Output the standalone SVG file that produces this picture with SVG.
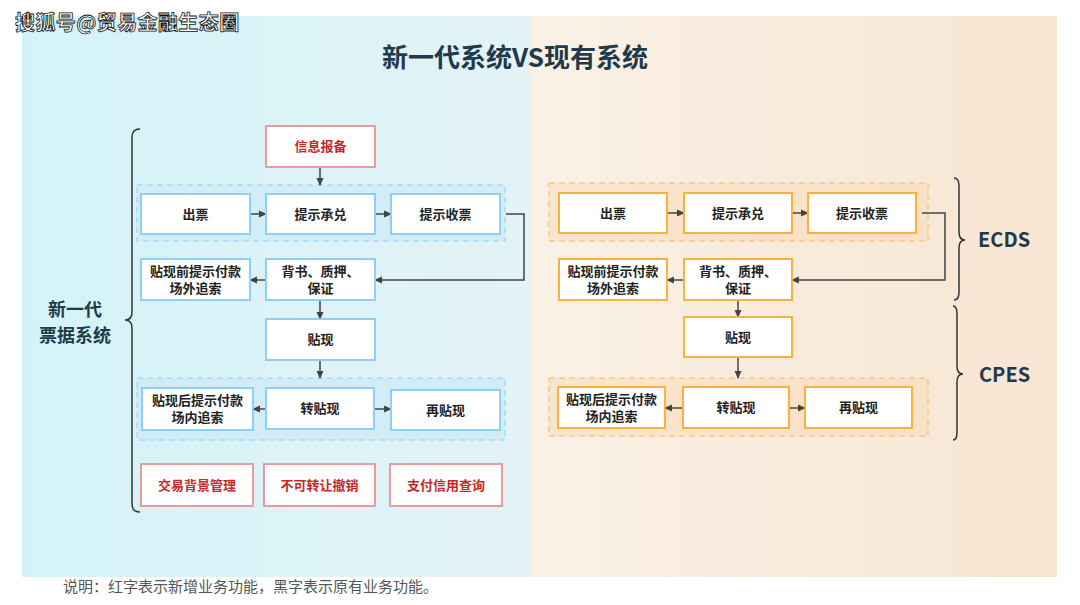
<svg xmlns="http://www.w3.org/2000/svg" width="1080" height="605" viewBox="0 0 1080 605">
<defs>
<linearGradient id="gL" x1="0" y1="0" x2="1" y2="0"><stop offset="0" stop-color="#d4f3f8"/><stop offset="1" stop-color="#e3f3f7"/></linearGradient>
<linearGradient id="gR" x1="0" y1="0" x2="1" y2="0"><stop offset="0" stop-color="#faf1e6"/><stop offset="1" stop-color="#f7e5d2"/></linearGradient>
<marker id="ar" markerWidth="8" markerHeight="8" refX="7" refY="4" orient="auto" markerUnits="userSpaceOnUse"><path d="M0,0.5 L8,4 L0,7.5 z" fill="#444"/></marker>
<style>
.b{fill:#fff;stroke:#90cdf7;stroke-width:2}
.o{fill:#fff;stroke:#fbb040;stroke-width:2}
.r{fill:#fff;stroke:#ef9a9a;stroke-width:2}
.gb{fill:#cdeaf6;fill-opacity:0.7;stroke:#a9dcf5;stroke-width:1.5;stroke-dasharray:6 4}
.go{fill:#f8deba;fill-opacity:0.6;stroke:#f6c88c;stroke-width:1.5;stroke-dasharray:6 4}
text{font-family:"Noto Sans CJK SC","Noto Sans",sans-serif}
.t{font-size:13px;font-weight:bold;fill:#222;text-anchor:middle}
.tr{font-size:13px;font-weight:bold;fill:#c62828;text-anchor:middle}
.c{fill:none;stroke:#444;stroke-width:1.5}
.br{fill:none;stroke:#333;stroke-width:1.5}
.lab{font-size:20px;font-weight:bold;fill:#1f3a4a}
.side{font-size:18px;font-weight:bold;fill:#1f3a4a;text-anchor:middle}
</style>
</defs>
<rect x="0" y="0" width="1080" height="605" fill="#fff"/>
<rect x="22" y="16" width="508" height="561" fill="url(#gL)"/>
<rect x="530" y="16" width="527" height="561" fill="url(#gR)"/>
<text x="15" y="30" font-size="20" font-weight="bold" fill="#fff" stroke="#111" stroke-width="0.8" letter-spacing="0.4">搜狐号@贸易金融生态圈</text>
<text x="515" y="67" font-size="26" font-weight="bold" fill="#1f3a4a" text-anchor="middle">新一代系统VS现有系统</text>

<g id="groups">
<rect class="gb" x="137" y="185" width="368" height="56"/>
<rect class="gb" x="137" y="378" width="368" height="62"/>
<rect class="go" x="549" y="183" width="379" height="58"/>
<rect class="go" x="549" y="378" width="379" height="58"/>
</g>

<g id="connectors">
<line class="c" x1="320" y1="167" x2="320" y2="185" marker-end="url(#ar)"/>
<line class="c" x1="250" y1="214" x2="266" y2="214" marker-end="url(#ar)"/>
<line class="c" x1="375" y1="214" x2="391" y2="214" marker-end="url(#ar)"/>
<polyline class="c" points="506,214 524,214 524,280 375,280" marker-end="url(#ar)"/>
<line class="c" x1="266" y1="280" x2="250" y2="280" marker-end="url(#ar)"/>
<line class="c" x1="320" y1="300" x2="320" y2="319" marker-end="url(#ar)"/>
<line class="c" x1="320" y1="360" x2="320" y2="378" marker-end="url(#ar)"/>
<line class="c" x1="266" y1="409" x2="253" y2="409" marker-end="url(#ar)"/>
<line class="c" x1="374" y1="409" x2="391" y2="409" marker-end="url(#ar)"/>

<line class="c" x1="667" y1="213" x2="684" y2="213" marker-end="url(#ar)"/>
<line class="c" x1="792" y1="213" x2="808" y2="213" marker-end="url(#ar)"/>
<polyline class="c" points="922,213 945,213 945,280 792,280" marker-end="url(#ar)"/>
<line class="c" x1="684" y1="280" x2="667" y2="280" marker-end="url(#ar)"/>
<line class="c" x1="738" y1="300" x2="738" y2="317" marker-end="url(#ar)"/>
<line class="c" x1="738" y1="357" x2="738" y2="378" marker-end="url(#ar)"/>
<line class="c" x1="683" y1="408" x2="665" y2="408" marker-end="url(#ar)"/>
<line class="c" x1="789" y1="408" x2="805" y2="408" marker-end="url(#ar)"/>
</g>

<g id="L-info"><rect class="r" x="266" y="126" width="109" height="41"/><text class="tr" x="320.5" y="151">信息报备</text></g>
<g id="L-chupiao"><rect class="b" x="141" y="194" width="109" height="40"/><text class="t" x="195.5" y="219">出票</text></g>
<g id="L-chengdui"><rect class="b" x="266" y="194" width="109" height="40"/><text class="t" x="320.5" y="219">提示承兑</text></g>
<g id="L-shoupiao"><rect class="b" x="391" y="194" width="109" height="40"/><text class="t" x="445.5" y="219">提示收票</text></g>
<g id="L-qianfukuan"><rect class="b" x="141" y="259" width="109" height="41"/><text class="t" x="195.5" y="276">贴现前提示付款</text><text class="t" x="195.5" y="293">场外追索</text></g>
<g id="L-beishu"><rect class="b" x="266" y="259" width="109" height="41"/><text class="t" x="320.5" y="276">背书、质押、</text><text class="t" x="320.5" y="293">保证</text></g>
<g id="L-tiexian"><rect class="b" x="266" y="319" width="109" height="41"/><text class="t" x="320.5" y="344">贴现</text></g>
<g id="L-houfukuan"><rect class="b" x="142" y="388" width="111" height="42"/><text class="t" x="197.5" y="405">贴现后提示付款</text><text class="t" x="197.5" y="422">场内追索</text></g>
<g id="L-zhuantiexian"><rect class="b" x="266" y="388" width="108" height="41"/><text class="t" x="320" y="413">转贴现</text></g>
<g id="L-zaitiexian"><rect class="b" x="391" y="390" width="109" height="40"/><text class="t" x="445.5" y="415">再贴现</text></g>
<g id="L-jiaoyi"><rect class="r" x="141" y="464" width="112" height="42"/><text class="tr" x="197" y="490">交易背景管理</text></g>
<g id="L-chexiao"><rect class="r" x="264" y="464" width="111" height="42"/><text class="tr" x="319.5" y="490">不可转让撤销</text></g>
<g id="L-chaxun"><rect class="r" x="390" y="464" width="112" height="42"/><text class="tr" x="446" y="490">支付信用查询</text></g>

<g id="R-chupiao"><rect class="o" x="559" y="193" width="108" height="40"/><text class="t" x="613" y="218">出票</text></g>
<g id="R-chengdui"><rect class="o" x="684" y="193" width="108" height="40"/><text class="t" x="738" y="218">提示承兑</text></g>
<g id="R-shoupiao"><rect class="o" x="808" y="193" width="108" height="40"/><text class="t" x="862" y="218">提示收票</text></g>
<g id="R-qianfukuan"><rect class="o" x="559" y="259" width="108" height="41"/><text class="t" x="613" y="276">贴现前提示付款</text><text class="t" x="613" y="293">场外追索</text></g>
<g id="R-beishu"><rect class="o" x="684" y="259" width="108" height="41"/><text class="t" x="738" y="276">背书、质押、</text><text class="t" x="738" y="293">保证</text></g>
<g id="R-tiexian"><rect class="o" x="684" y="317" width="108" height="40"/><text class="t" x="738" y="342">贴现</text></g>
<g id="R-houfukuan"><rect class="o" x="558" y="387" width="107" height="41"/><text class="t" x="611.5" y="404">贴现后提示付款</text><text class="t" x="611.5" y="421">场内追索</text></g>
<g id="R-zhuantiexian"><rect class="o" x="683" y="387" width="106" height="41"/><text class="t" x="736" y="412">转贴现</text></g>
<g id="R-zaitiexian"><rect class="o" x="805" y="387" width="107" height="41"/><text class="t" x="858.5" y="412">再贴现</text></g>

<g id="brace-new">
<path class="br" d="M140,129 Q132,129 132,137 L132,312 Q132,320 125,320 Q132,320 132,328 L132,504 Q132,512 140,512"/>
<text class="side" x="75" y="316">新一代</text>
<text class="side" x="75" y="342">票据系统</text>
</g>
<g id="brace-ecds">
<path class="br" d="M954,178 Q959,178 959,186 L959,232 Q959,240 965,240 Q959,240 959,248 L959,292 Q959,300 954,300"/>
<text class="lab" x="978" y="247">ECDS</text>
</g>
<g id="brace-cpes">
<path class="br" d="M953,306 Q957,306 957,314 L957,366 Q957,374 963,374 Q957,374 957,382 L957,432 Q957,440 953,440"/>
<text class="lab" x="979" y="382">CPES</text>
</g>

<text x="63" y="592" font-size="15" fill="#555">说明：红字表示新增业务功能，黑字表示原有业务功能。</text>
</svg>
